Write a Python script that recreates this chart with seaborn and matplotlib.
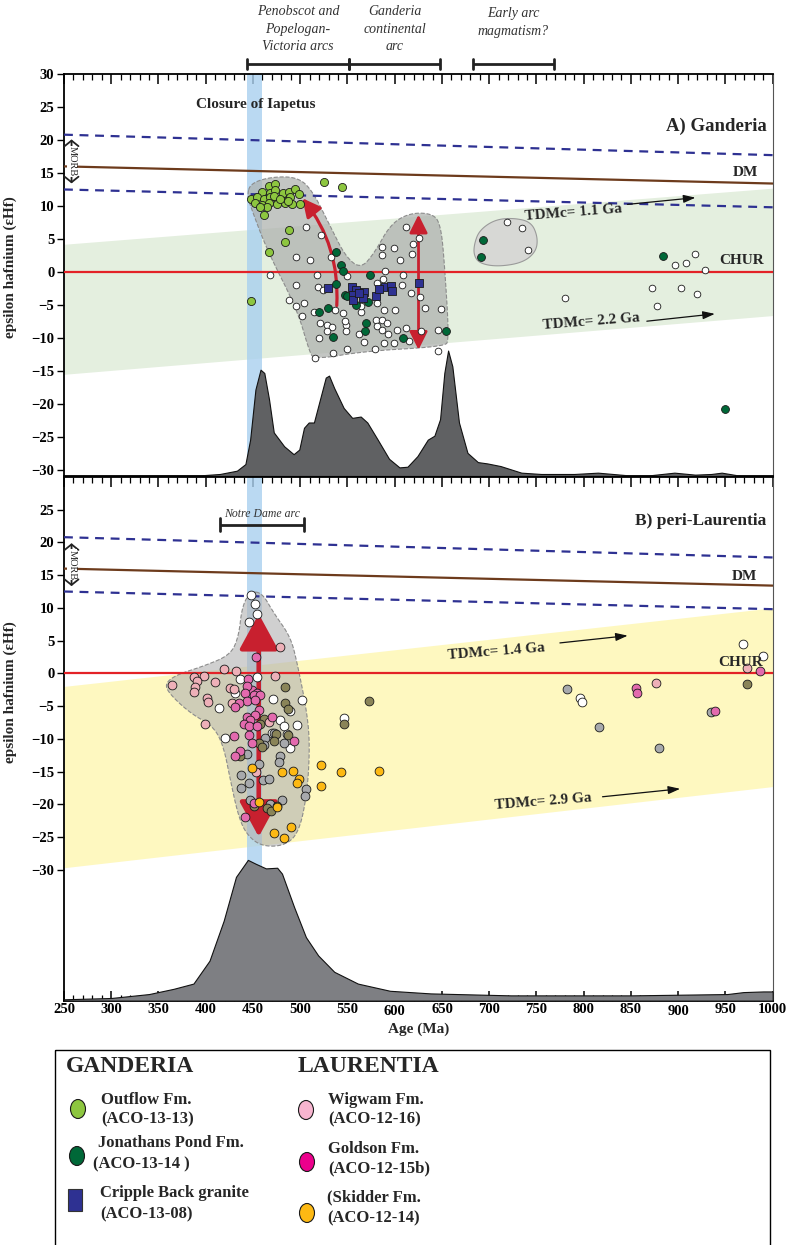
import numpy as np
import matplotlib
matplotlib.use("Agg")
import matplotlib.pyplot as plt
import matplotlib.transforms as mtransforms
from matplotlib.patches import Polygon, Ellipse, Rectangle, FancyArrowPatch
import seaborn as sns

sns.set_theme(style="white")
plt.rcParams['font.family'] = ['Liberation Serif', 'DejaVu Serif']
plt.rcParams['font.weight'] = 'bold'
plt.rcParams['axes.labelweight'] = 'bold'

# ---------------------------------------------------------------- data
# Ganderia (panel A): zircon age (Ma) and epsilon Hf
outflow_age = [466.8, 473.8, 459.7, 467.8, 473.8, 482.0, 488.0, 495.0, 498.6, 448.0,
               454.4, 461.5, 468.5, 475.6, 482.7, 489.7, 452.6, 459.7, 466.8, 475.6,
               484.4, 491.5, 499.6, 461.5, 465.0, 457.2, 472.0, 479.1, 486.9,
               525.5, 543.9, 488.3, 483.7, 467.1, 448.0]
outflow_ehf = [13.1, 13.3, 12.1, 11.9, 12.4, 11.9, 12.1, 12.5, 11.8, 11.1,
               11.4, 11.0, 11.3, 11.0, 10.8, 11.4, 10.4, 10.1, 10.5, 10.3,
               10.5, 10.3, 10.3, 8.6, 9.8, 9.9, 11.5, 11.1, 10.8,
               13.6, 12.8, 6.4, 4.6, 3.1, -4.4]

jonathans_age = [538.2, 542.8, 544.9, 573.9, 537.8, 547.0, 559.0, 571.8, 529.7, 519.4,
                 569.7, 568.3, 534.3, 608.6, 653.8, 549.9, 693.5, 691.3, 884.4, 949.5]
jonathans_ehf = [3.1, 1.1, 0.2, -0.5, -1.8, -3.5, -5.0, -4.6, -5.5, -6.0,
                 -7.8, -9.0, -9.9, -10.0, -9.0, -3.6, 4.8, 2.3, 2.4, -20.7]

cripple_age = [529.4, 555.2, 558.7, 556.2, 567.5, 580.6, 589.5, 596.5, 597.6, 556.2,
               566.5, 625.5, 562.0, 583.0]
cripple_ehf = [-2.4, -2.2, -2.7, -3.5, -3.1, -3.6, -2.2, -2.1, -2.9, -4.2,
               -4.0, -1.7, -3.2, -2.6]

ganderia_other_age = [505.7, 521.6, 611.7, 626.2, 587.0, 599.4, 619.5, 618.8, 587.0, 605.4,
                      495.1, 509.9, 532.9, 468.5, 517.3, 549.2, 589.8, 588.1, 608.9, 495.4,
                      519.1, 524.4, 581.7, 608.2, 617.0, 626.6, 488.3, 495.4, 503.9, 502.1,
                      514.5, 536.4, 545.6, 564.0, 581.7, 588.8, 600.1, 632.2, 648.9, 520.9,
                      528.6, 533.9, 548.4, 548.8, 579.9, 587.0, 592.3, 581.7, 587.0, 593.0,
                      602.9, 611.7, 627.7, 645.3, 519.8, 528.6, 562.2, 567.5, 588.8, 599.4,
                      549.9, 534.7, 578.9, 515.2, 646.0, 615.3, 564.0, 547.0,
                      718.9, 734.8, 741.5, 896.4, 908.1, 918.3, 927.9, 780.4, 872.0, 903.5,
                      920.1, 877.3]
ganderia_other_ehf = [6.8, 5.6, 6.8, 5.1, 3.8, 3.7, 4.2, 2.7, 2.6, 1.8,
                      2.3, 1.8, 2.2, -0.4, -0.4, -0.6, 0.1, -1.0, -0.4, -2.0,
                      -2.2, -2.8, -1.7, -2.0, -3.2, -3.8, -4.2, -5.2, -4.7, -6.7,
                      -6.0, -5.7, -6.2, -6.1, -4.7, -5.7, -5.8, -5.4, -5.6, -7.8,
                      -8.1, -8.3, -8.1, -8.9, -7.2, -7.2, -7.8, -8.2, -8.8, -9.4,
                      -8.8, -8.5, -9.0, -8.8, -10.0, -9.0, -9.4, -10.6, -10.7, -10.8,
                      -11.6, -12.3, -11.7, -13.0, -12.0, -10.5, -5.2, -7.4,
                      7.5, 6.7, 3.4, 1.0, 1.3, 2.7, 0.3, -4.0, -2.4, -2.4,
                      -3.3, -5.2]

# peri-Laurentia (panel B)
wigwam_age = [478.4, 419.0, 432.4, 397.8, 387.2, 364.5, 390.7, 388.9, 387.2, 410.2,
              401.3, 402.0, 427.8, 425.4, 398.8, 473.8, 466.7, 453.6, 429.6, 876.9, 973.1]
wigwam_ehf = [4.0, 0.6, 0.4, -0.4, -0.6, -1.8, -1.2, -2.1, -2.9, -1.3,
              -3.8, -4.4, -4.5, -2.3, -7.7, -0.4, -7.5, -15.1, -2.4, -1.5, 0.8]

goldson_age = [453.3, 445.2, 449.0, 443.7, 454.4, 450.8, 442.0, 457.9, 443.7, 451.9,
               434.9, 431.4, 456.1, 443.7, 452.6, 447.3, 440.2, 445.5, 454.4, 470.3,
               445.5, 429.6, 449.0, 493.2, 436.7, 431.4, 450.8, 441.6, 855.3, 856.0,
               939.1, 986.5]
goldson_ehf = [2.5, -0.9, -2.5, -2.0, -3.0, -3.3, -3.0, -3.3, -4.3, -4.1,
               -4.5, -5.1, -5.6, -6.6, -6.3, -7.1, -7.7, -8.1, -8.1, -6.6,
               -9.4, -9.5, -10.7, -10.4, -11.9, -12.7, -19.8, -22.0, -2.2, -3.0,
               -5.7, 0.3]

skidder_age = [449.0, 480.9, 492.5, 498.6, 496.8, 521.5, 521.5, 543.5, 583.0, 456.1,
               475.6, 490.4, 472.0, 483.3]
skidder_ehf = [-14.5, -15.0, -14.9, -16.2, -16.8, -14.0, -17.2, -15.1, -14.9, -19.7,
               -20.4, -23.5, -24.4, -25.2]

laur_white_age = [448.0, 451.9, 454.4, 445.9, 454.4, 436.7, 471.0, 413.7, 489.0, 502.1,
                  431.4, 479.1, 482.6, 496.8, 420.8, 486.2, 489.7, 470.3, 546.3, 795.6,
                  798.1, 968.5, 989.3]
laur_white_ehf = [11.9, 10.6, 9.1, 7.8, -0.6, -0.8, -3.9, -5.3, -5.7, -4.0,
                  -3.0, -7.1, -8.1, -7.9, -9.9, -9.2, -11.4, -9.1, -6.9, -3.7,
                  -4.4, 4.5, 2.6]

laur_grey_age = [463.2, 472.7, 461.4, 482.6, 443.7, 479.1, 477.4, 456.1, 437.4, 445.5,
                 437.7, 460.7, 466.7, 505.6, 504.6, 447.3, 468.5, 480.2, 782.5, 816.1,
                 879.4, 935.2]
laur_grey_ehf = [-9.9, -9.1, -10.9, -10.7, -12.4, -12.7, -13.6, -13.9, -15.6, -16.7,
                 -17.5, -16.3, -16.2, -17.6, -18.7, -19.3, -19.9, -19.3, -2.4, -8.2,
                 -11.4, -5.9]

laur_olive_age = [483.7, 484.4, 487.6, 461.4, 457.9, 474.9, 486.9, 472.0, 456.1, 459.7,
                  436.7, 450.8, 465.0, 469.2, 475.6, 572.8, 546.3, 972.4]
laur_olive_ehf = [-2.1, -4.5, -5.4, -7.0, -7.7, -9.2, -9.4, -10.4, -10.7, -11.2,
                  -12.7, -20.3, -20.5, -21.1, -20.3, -4.2, -7.8, -1.6]

# reference evolution lines (end points at 250 and 1000 Ma)
ref_age = [250, 1000]
morb_upper = [20.8, 17.7]
morb_lower = [12.5, 9.8]
dm_line = [16.0, 13.4]
tdm_a_upper = [4.2, 12.7]
tdm_a_lower = [-15.5, -6.6]
tdm_b_upper = [-2.0, 10.0]
tdm_b_lower = [-29.7, -17.3]

# age probability curves (age, plotted height in epsilon units)
kde_a_age = [250, 300, 350, 395, 415, 433, 442, 447, 452.6, 458, 462, 467, 472, 483, 493,
             499, 504, 509, 514.5, 520, 527, 530.5, 536, 546, 555, 564, 571, 582, 594, 605,
             613.5, 624, 635, 642, 648, 652.5, 656.5, 661, 668, 677, 688, 698, 712, 734,
             755, 790, 815, 847, 870, 896, 918, 935, 946, 967, 1000]
kde_a_ehf = [-30.9, -30.9, -30.85, -30.8, -30.6, -30.1, -29.1, -25.4, -17.8, -14.8, -15.3,
             -19.3, -24.3, -26.4, -27.6, -26.9, -23.6, -22.8, -22.8, -19.8, -16.0, -15.7,
             -17.6, -20.6, -22.1, -21.9, -22.8, -25.4, -28.3, -29.6, -29.5, -27.9, -25.4,
             -24.8, -22.3, -15.3, -11.9, -14.3, -22.8, -27.4, -28.8, -29.0, -29.4, -30.4,
             -30.6, -30.6, -30.4, -30.8, -30.8, -30.4, -30.7, -30.6, -30.4, -30.9, -30.9]
kde_b_age = [250, 300, 340, 366, 387, 404, 419, 432, 444.6, 453, 463.7, 475.6, 480.7, 493.5,
             506, 519, 536, 561, 595, 638, 723, 850, 952, 969, 990, 1000]
kde_b_ehf = [-49.8, -49.6, -49.0, -48.2, -47.4, -43.9, -37.8, -31.1, -28.5, -29.1, -29.8,
             -29.7, -30.6, -35.7, -40.3, -43.1, -45.6, -47.4, -48.5, -48.9, -49.2, -49.2,
             -49.0, -48.7, -48.6, -48.6]

# outlines of the main data fields
field_a_age = [443.8, 447.3, 468.5, 496.8, 512.7, 532.2, 548.1, 564.0, 578.2, 595.8, 617.0,
               641.8, 648.9, 652.4, 657.7, 652.4, 567.5, 514.5, 509.2, 496.8, 465.0, 449.1]
field_a_ehf = [11.6, 13.4, 14.4, 14.4, 12.4, 6.8, 2.3, 0.5, 2.8, 7.3, 9.0,
               8.8, 6.8, 1.8, -10.3, -11.3, -12.0, -13.3, -11.8, -5.7, 3.3, 9.3]
field_early_age = [684.3, 689.6, 705.5, 725.0, 744.4, 751.4, 749.7, 735.5, 709.0, 689.6, 683.6]
field_early_ehf = [4.3, 6.3, 7.9, 8.2, 7.6, 5.3, 3.1, 1.4, 0.8, 1.3, 2.6]
field_b_age = [447.3, 459.7, 472.0, 489.7, 496.8, 507.4, 510.2, 507.4, 498.6, 482.6, 457.9,
               442.0, 433.8, 426.1, 419.0, 408.4, 383.6, 360.6, 357.1, 369.5, 397.8, 426.1,
               434.9, 438.4]
field_b_ehf = [12.5, 12.3, 9.2, 5.6, 1.6, -6.1, -11.2, -18.3, -24.4, -26.4, -26.4,
               -24.4, -21.4, -16.3, -11.2, -8.1, -6.1, -3.0, -1.5, -0.2, 1.1, 2.8,
               5.6, 10.2]

# tectonic episodes (Ma)
iapetus_closure = (443.6, 459.5)
episode_labels = ["Penobscot and\nPopelogan-\nVictoria arcs", "Ganderia\ncontinental\narc",
                  "Early arc\nmagmatism?"]
episode_start = [443.7, 551.6, 682.8]
episode_end = [551.6, 647.9, 768.6]
notre_dame = (415.0, 504.0)

# ---------------------------------------------------------------- helpers
def smooth_closed(xs, ys, n=4):
    pts = np.column_stack([xs, ys]).astype(float)
    for _ in range(n):
        nxt = np.roll(pts, -1, axis=0)
        new = np.empty((2 * len(pts), 2))
        new[0::2] = 0.75 * pts + 0.25 * nxt
        new[1::2] = 0.25 * pts + 0.75 * nxt
        pts = new
    return pts


def style_axes(ax, ylim, yticks, bottom_labels):
    ax.set_xlim(250, 1000)
    ax.set_ylim(*ylim)
    ax.set_yticks(yticks)
    ax.set_xticks(np.arange(250, 1001, 50))
    ax.set_xticks(np.arange(250, 1001, 10), minor=True)
    ax.tick_params(axis='y', which='major', direction='out', length=5, width=1,
                   left=True, right=False, labelsize=10.5, pad=2, colors='black')
    ax.tick_params(axis='x', which='major', direction='in', length=7, width=1.1,
                   top=True, bottom=bottom_labels, labelbottom=bottom_labels,
                   labelsize=10.5, pad=2, colors='black')
    ax.tick_params(axis='x', which='minor', direction='in', length=4, width=0.9,
                   top=True, bottom=bottom_labels, colors='black')
    ax.grid(False)
    for s in ['left', 'top', 'bottom']:
        ax.spines[s].set_color('black')
        ax.spines[s].set_linewidth(1.3)
    ax.spines['right'].set_color('#555555')
    ax.spines['right'].set_linewidth(0.8)
    for lbl in ax.get_xticklabels() + ax.get_yticklabels():
        lbl.set_fontweight('bold')
    ax.set_ylabel("epsilon hafnium (εHf)", fontsize=11, fontweight='bold')


def reference_lines(ax):
    ax.plot(ref_age, morb_upper, color='#2e3192', ls=(0, (4, 3)), lw=1.6, zorder=3)
    ax.plot(ref_age, morb_lower, color='#2e3192', ls=(0, (4, 3)), lw=1.6, zorder=3)
    ax.plot(ref_age, dm_line, color='#6d3b1c', lw=1.6, zorder=3)
    ax.axhline(0, color='#e32227', lw=1.6, zorder=3)


def morb_bracket(ax, top, bottom):
    ax.add_patch(FancyArrowPatch((258, top), (258, bottom),
                                 arrowstyle='<->,head_length=4,head_width=5',
                                 mutation_scale=1, lw=1.3, color='#222222', zorder=4))
    ax.text(258.5, (top + bottom) / 2, "MORB", rotation=270, fontsize=7.5,
            fontweight='normal', ha='center', va='center', zorder=4.5,
            bbox=dict(fc='white', ec='none', pad=0.4))


def scatter(ax, x, y, color, size, marker='o', z=5):
    sns.scatterplot(x=x, y=y, ax=ax, color=color, s=size, marker=marker,
                    edgecolor='#1a1a1a', linewidth=0.6, zorder=z, legend=False)


fig = plt.figure(figsize=(7.87, 12.45), dpi=100)
axA = fig.add_axes([0.0813, 0.6177, 0.9005, 0.3229])
axB = fig.add_axes([0.0813, 0.1963, 0.9005, 0.4206])

# ---------------------------------------------------------------- panel A
axA.fill_between(ref_age, tdm_a_lower, tdm_a_upper, color='#e4efdf', lw=0, zorder=0.5)
axA.axvspan(*iapetus_closure, color='#a9d0ef', alpha=0.8, lw=0, zorder=1)
axA.add_patch(Polygon(smooth_closed(field_a_age, field_a_ehf), closed=True,
                      fc=(0.68, 0.69, 0.68, 0.72), ec='#8c8c8c', ls='--', lw=0.8, zorder=1.5))
axA.add_patch(Polygon(smooth_closed(field_early_age, field_early_ehf), closed=True,
                      fc=(0.84, 0.84, 0.83, 0.9), ec='#9a9a9a', lw=0.8, zorder=1.5))
reference_lines(axA)
axA.fill_between(kde_a_age, -30.9, kde_a_ehf, fc='#606163', ec='#111111', lw=0.8, zorder=3.5)

red = '#c8202f'
axA.add_patch(FancyArrowPatch((538.5, -5.5), (500.4, 11.5), connectionstyle='arc3,rad=0.2',
                              arrowstyle='-|>,head_length=11,head_width=5.5', mutation_scale=1,
                              lw=2.3, color=red, zorder=4))
axA.add_patch(FancyArrowPatch((625.2, -12.2), (625.2, 9.1),
                              arrowstyle='<|-|>,head_length=11,head_width=5.5', mutation_scale=1,
                              lw=2.0, color=red, zorder=4))

scatter(axA, ganderia_other_age, ganderia_other_ehf, 'white', 23)
scatter(axA, jonathans_age, jonathans_ehf, '#006838', 32)
scatter(axA, cripple_age, cripple_ehf, '#2e3192', 38, marker='s')
scatter(axA, outflow_age, outflow_ehf, '#8dc63f', 34)

morb_bracket(axA, 20.5, 13.0)
axA.text(453, 25.4, "Closure of Iapetus", ha='center', va='center', fontsize=11, zorder=6)
axA.text(994, 22.0, "A) Ganderia", ha='right', va='center', fontsize=13.5, zorder=6)
axA.text(971, 15.1, "DM", ha='center', va='center', fontsize=11, zorder=6)
axA.text(967, 1.8, "CHUR", ha='center', va='center', fontsize=11, zorder=6)
axA.text(789, 9.0, "TDMc= 1.1 Ga", ha='center', va='center', fontsize=11, rotation=4.5, zorder=6)
axA.text(808, -7.6, "TDMc= 2.2 Ga", ha='center', va='center', fontsize=11, rotation=4.5, zorder=6)
for (x0, y0), (x1, y1) in [((843.4, 10.2), (921.2, 11.3)), ((863.9, -7.5), (941.7, -6.3))]:
    axA.annotate("", xy=(x1, y1), xytext=(x0, y0),
                 arrowprops=dict(arrowstyle='-|>,head_length=0.6,head_width=0.2',
                                 color='#111111', lw=0.9), zorder=6)

trA = mtransforms.blended_transform_factory(axA.transData, axA.transAxes)
text_bottom = [1.052, 1.052, 1.09]
for lbl, s, e, yb in zip(episode_labels, episode_start, episode_end, text_bottom):
    axA.plot([s, e], [1.025, 1.025], transform=trA, color='#222222', lw=2, clip_on=False,
             solid_capstyle='butt')
    for xe in (s, e):
        axA.plot([xe, xe], [1.013, 1.037], transform=trA, color='#222222', lw=2, clip_on=False)
    axA.text((s + e) / 2, yb, lbl, transform=trA, ha='center', va='bottom', fontsize=10,
             style='italic', fontweight='normal', linespacing=1.45, color='#333333')

style_axes(axA, (-30.9, 30), np.arange(-30, 31, 5), False)
axA.yaxis.set_label_coords(-0.067, 0.52)

# ---------------------------------------------------------------- panel B
axB.fill_between(ref_age, tdm_b_lower, tdm_b_upper, color='#fef8c0', lw=0, zorder=0.5)
axB.fill_between(list(iapetus_closure), -30, 30, color='#a9d0ef', alpha=0.8, lw=0, zorder=1)
axB.add_patch(Polygon(smooth_closed(field_b_age, field_b_ehf), closed=True,
                      fc=(0.70, 0.70, 0.70, 0.62), ec='#8c8c8c', ls='--', lw=0.8, zorder=1.5))
reference_lines(axB)
axB.fill_between(kde_b_age, -50, kde_b_ehf, fc='#7e7f83', ec='#111111', lw=0.8, zorder=3.5)

axB.add_patch(FancyArrowPatch((456.1, -25.4), (456.1, 9.5),
                              arrowstyle='<|-|>,head_length=22,head_width=12', mutation_scale=1,
                              lw=3.3, color=red, zorder=4))

scatter(axB, laur_white_age, laur_white_ehf, 'white', 40)
scatter(axB, laur_grey_age, laur_grey_ehf, '#a7a9ac', 40)
scatter(axB, laur_olive_age, laur_olive_ehf, '#8a8458', 40)
scatter(axB, wigwam_age, wigwam_ehf, '#eeb0b8', 40)
scatter(axB, goldson_age, goldson_ehf, '#e36aae', 40)
scatter(axB, skidder_age, skidder_ehf, '#fdb913', 40)

morb_bracket(axB, 20.3, 12.9)
axB.plot(list(notre_dame), [22.7, 22.7], color='#222222', lw=2, solid_capstyle='butt')
for xe in notre_dame:
    axB.plot([xe, xe], [21.7, 23.7], color='#222222', lw=2)
axB.text(sum(notre_dame) / 2, 24.3, "Notre Dame arc", ha='center', va='center', fontsize=8.5,
         style='italic', fontweight='normal', color='#333333')
axB.text(993, 23.3, "B) peri-Laurentia", ha='right', va='center', fontsize=12.5, zorder=6)
axB.text(970, 14.8, "DM", ha='center', va='center', fontsize=11, zorder=6)
axB.text(966, 1.6, "CHUR", ha='center', va='center', fontsize=11, zorder=6)
axB.text(708, 3.3, "TDMc= 1.4 Ga", ha='center', va='center', fontsize=11, rotation=4.5, zorder=6)
axB.text(757, -19.6, "TDMc= 2.9 Ga", ha='center', va='center', fontsize=11, rotation=4.5, zorder=6)
for (x0, y0), (x1, y1) in [((771.9, 4.6), (849.5, 5.8)), ((817, -18.9), (905, -17.6))]:
    axB.annotate("", xy=(x1, y1), xytext=(x0, y0),
                 arrowprops=dict(arrowstyle='-|>,head_length=0.6,head_width=0.2',
                                 color='#111111', lw=0.9), zorder=6)

style_axes(axB, (-50, 30), np.arange(-30, 26, 5), True)
for tick in axB.xaxis.get_major_ticks():
    if round(tick.get_loc()) in (600, 900):
        tick.set_pad(3.5)
axB.yaxis.set_label_coords(-0.067, 0.59)
axB.set_xlabel("Age (Ma)", fontsize=11, fontweight='bold', labelpad=3)

# ---------------------------------------------------------------- key
key = fig.add_axes([0, 0, 1, 1])
key.set_xlim(0, 787)
key.set_ylim(1245, 0)
key.axis('off')
key.add_patch(Rectangle((55, 1050), 715, 260, fill=False, ec='black', lw=1))
key.text(66, 1067, "GANDERIA", fontsize=17, ha='left', va='center')
key.text(298, 1067, "LAURENTIA", fontsize=17, ha='left', va='center')

key_entries = [
    ('ellipse', (78, 1109), '#8dc63f', ("Outflow Fm.", 101, 1100), ("(ACO-13-13)", 101, 1119)),
    ('ellipse', (77, 1156), '#006838', ("Jonathans Pond Fm.", 98, 1143), ("(ACO-13-14 )", 93, 1164)),
    ('square', (75, 1200), '#2e3192', ("Cripple Back granite", 100, 1193), ("(ACO-13-08)", 100, 1214)),
    ('ellipse', (306, 1110), '#f7b5cf', ("Wigwam Fm.", 328, 1100), ("(ACO-12-16)", 328, 1119)),
    ('ellipse', (307, 1162), '#ec008c', ("Goldson Fm.", 328, 1149), ("(ACO-12-15b)", 328, 1168)),
    ('ellipse', (307, 1213), '#fdb913', ("(Skidder Fm.", 327, 1197), ("(ACO-12-14)", 327, 1218)),
]
for kind, (cx, cy), col, line1, line2 in key_entries:
    if kind == 'square':
        key.add_patch(Rectangle((cx - 7, cy - 11), 14, 22, fc=col, ec='#333333', lw=0.8))
    else:
        key.add_patch(Ellipse((cx, cy), 15, 19, fc=col, ec='#1a1a1a', lw=0.8))
    for txt, tx, ty in (line1, line2):
        key.text(tx, ty, txt, fontsize=12, ha='left', va='center')

fig.savefig("out.png", dpi=100)
